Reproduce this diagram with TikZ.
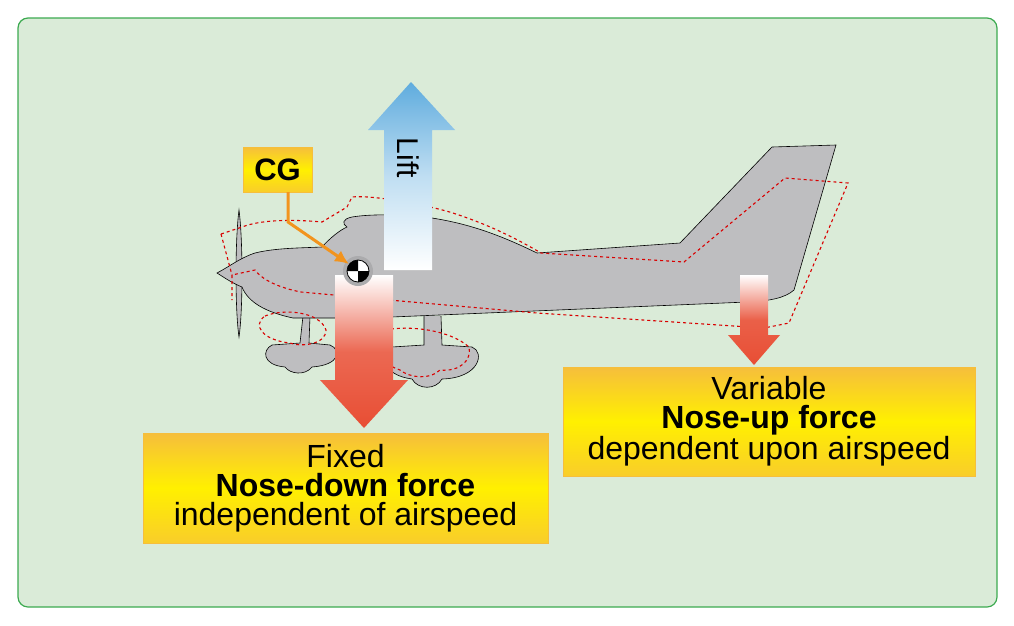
\documentclass[tikz,border=0pt]{standalone}
\usepackage{fontspec}
\setmainfont{Liberation Sans}
\usetikzlibrary{arrows.meta}
\definecolor{panel}{RGB}{218,235,216}
\definecolor{panelline}{RGB}{60,170,80}
\definecolor{plane}{RGB}{190,190,192}
\definecolor{liftblue}{RGB}{95,172,222}
\definecolor{forcered}{RGB}{232,78,52}
\definecolor{cgorange}{RGB}{242,148,30}
\definecolor{boxyellow}{RGB}{255,240,0}
\definecolor{boxedge}{RGB}{246,190,60}
\begin{document}
\begin{tikzpicture}[x=1pt,y=-1pt]
	\tikzset{label/.style = {draw=boxedge, line width=0.8pt, top color=boxedge, bottom color=boxedge!70!boxyellow, middle color=boxyellow, align=center, inner sep=0pt, font=\fontsize{32}{29}\selectfont}}
	\tikzset{ghost/.style = {draw=red!85!black, dashed, line width=1.1pt, dash pattern=on 3pt off 3pt}}
	\tikzset{body/.style = {fill=plane, draw=black, line width=0.6pt}}
	
	\useasboundingbox (0,0) rectangle (1014,625);
	\draw[panelline, fill=panel, line width=1.2pt, rounded corners=10pt] (18,18) rectangle (997,607);
	
	% airplane
	\draw[body] (239,210) .. controls (243,240) and (243,310) .. (239,337) .. controls (235,310) and (235,240) .. (239,210) -- cycle;
	\draw[body] (303,316) -- (300,343) -- (272,345) .. controls (262,350) and (262,365) .. (285,367) .. controls (290,374) and (305,376) .. (312,367) .. controls (340,365) and (342,350) .. (330,345) -- (309,343) -- (310,316);
	\draw[body] (424,316) -- (424,345) -- (392,347) .. controls (380,355) and (382,375) .. (412,379) .. controls (418,390) and (436,390) .. (442,379) .. controls (480,378) and (485,352) .. (472,347) -- (442,345) -- (441,316);
	\draw[body] (217,273) .. controls (232,265) and (240,258) .. (255,253)
		.. controls (275,248) and (300,248) .. (322,247)
		.. controls (330,238) and (340,230) .. (347,227)
		.. controls (342,224) and (342,219) .. (352,217)
		.. controls (370,214) and (400,214) .. (432,218)
		.. controls (470,224) and (500,235) .. (537,253)
		-- (680,243) -- (772,147) -- (836,145) -- (794,290)
		.. controls (785,298) and (770,301) .. (747,302)
		-- (368,318) -- (293,318)
		.. controls (265,312) and (248,302) .. (242,287)
		.. controls (232,283) and (225,278) .. (217,273) -- cycle;
	\draw[ghost] (221,234) -- (242,227) .. controls (260,220) and (290,219) .. (322,222) -- (347,207) -- (352,197) .. controls (370,195) and (420,203) .. (453,213) .. controls (480,222) and (505,232) .. (541,253) -- (684,262) -- (785,178) -- (848,183) -- (789,323) -- (764,328) -- (537,313) -- (389,300) -- (301,292) .. controls (280,288) and (262,280) .. (255,270) -- (232,275) -- (232,300);
	\draw[ghost] (221,234) -- (232,275);
	\draw[ghost] (265,316) .. controls (285,308) and (320,312) .. (326,330) .. controls (326,345) and (300,347) .. (290,343) .. controls (262,340) and (252,325) .. (265,316) -- cycle;
	\draw[ghost] (385,330) .. controls (410,325) and (450,330) .. (469,347) .. controls (472,360) and (460,372) .. (440,370) .. controls (430,380) and (410,378) .. (400,370) .. controls (375,362) and (372,340) .. (385,330) -- cycle;
	
	% lift
	\shade[top color=liftblue, bottom color=white, middle color=liftblue!40!white] (384,270) -- (384,130) -- (368,130) -- (411,82) -- (455,130) -- (432,130) -- (432,270) -- cycle;
	\node[rotate=-90, font=\fontsize{30}{32}\selectfont] (lift) at (408,158) {Lift};
	
	% downward forces
	\shade[top color=white, bottom color=forcered, middle color=forcered!85!white] (335,275) -- (335,380) -- (320,380) -- (364,428) -- (408,380) -- (393,380) -- (393,275) -- cycle;
	\shade[top color=white, bottom color=forcered, middle color=forcered!90!white] (740,275) -- (740,335) -- (728,335) -- (754,365) -- (780,335) -- (768,335) -- (768,275) -- cycle;
	
	% centre of gravity
	\fill[plane!90!black] (358,271) circle (15);
	\fill[white, draw=black, line width=0.8pt] (358,271) circle (11);
	\fill[black] (358,271) -- (369,271) arc (0:90:11) -- cycle;
	\fill[black] (358,271) -- (347,271) arc (180:270:11) -- cycle;
	\coordinate (cg) at (349,264);
	
	\node[label, minimum width=69pt, minimum height=45pt, font=\fontsize{31}{33}\selectfont\bfseries] (cgbox) at (277.5,169.5) {CG};
	\draw[cgorange, line width=3pt, -{Latex[length=14pt,width=13pt]}] (288,192) -- (288,222) -- (cg);
	
	\node[label, minimum width=405pt, minimum height=110pt] (fixed) at (345.5,488) {Fixed\\\textbf{Nose-down force}\\independent of airspeed};
	\node[label, minimum width=412pt, minimum height=109pt] (variable) at (769,421.5) {Variable\\\textbf{Nose-up force}\\dependent upon airspeed};
\end{tikzpicture}
\end{document}
